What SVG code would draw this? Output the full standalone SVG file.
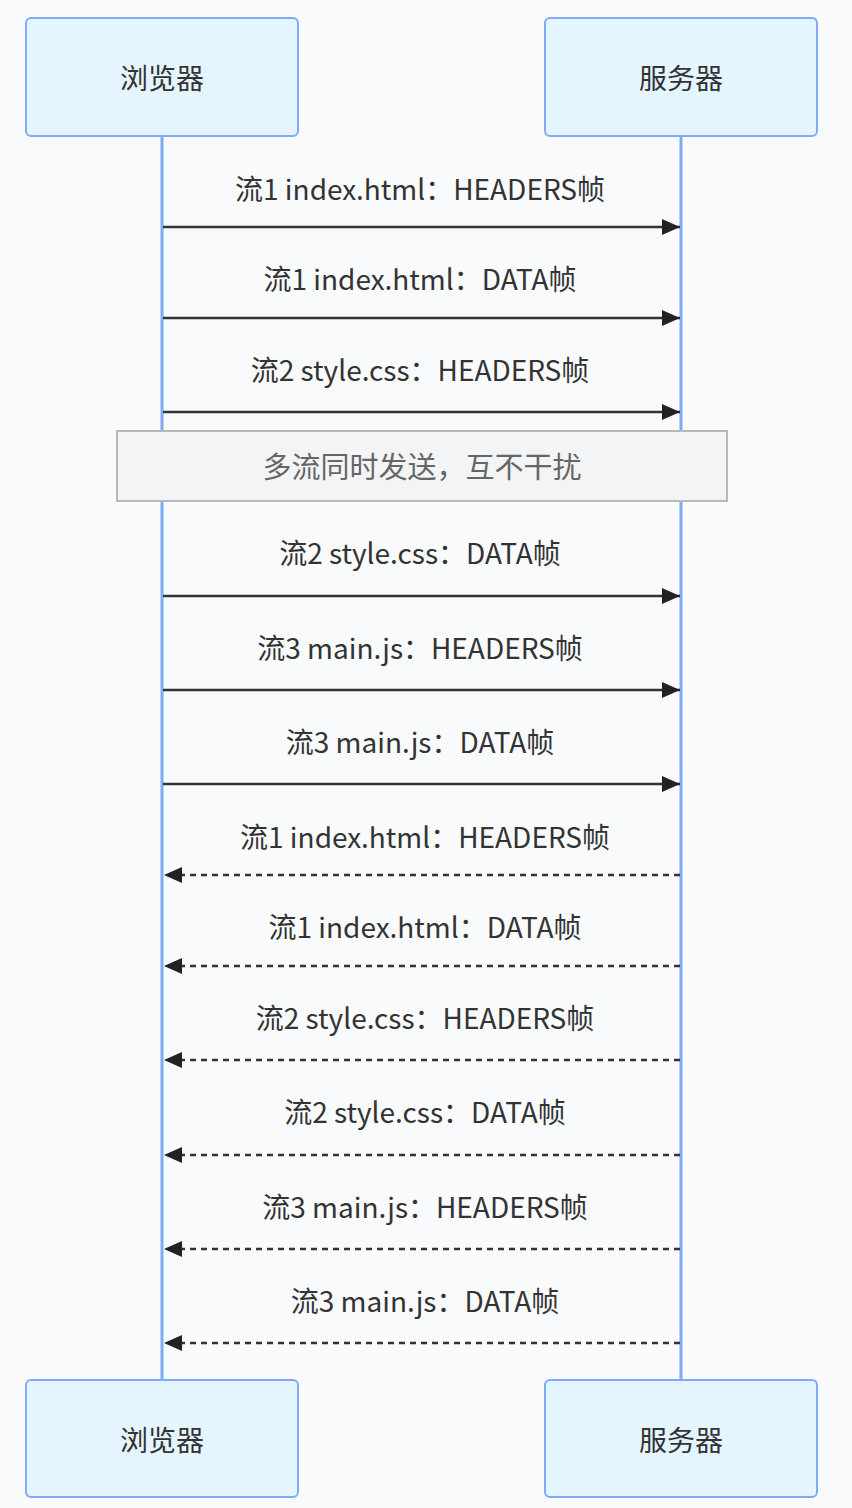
<svg xmlns="http://www.w3.org/2000/svg" width="852" height="1508" viewBox="0 0 852 1508">
<style>
.actor rect{fill:#e5f5ff;stroke:#7eaaf7;stroke-width:2}
.actor text{font-family:"Noto Sans CJK SC","Noto Sans",sans-serif;font-size:28px;fill:#333;text-anchor:middle;dominant-baseline:central}
.life{stroke:#7eaaf7;stroke-width:3}
.msg{font-family:"Noto Sans CJK SC","Noto Sans",sans-serif;font-size:28px;fill:#333;text-anchor:middle;dominant-baseline:central}
.solid{stroke:#333;stroke-width:2.5;fill:none;marker-end:url(#arr)}
.dash{stroke:#333;stroke-width:2.5;fill:none;stroke-dasharray:6 5;marker-end:url(#arr)}
.note rect{fill:#f3f4f6;stroke:#b8b8b8;stroke-width:2}
.note text{font-family:"Noto Sans CJK SC","Noto Sans",sans-serif;font-size:29px;fill:#666;text-anchor:middle;dominant-baseline:central}
</style>
<defs>
<marker id="arr" viewBox="0 0 18 16" refX="18" refY="8" markerWidth="18" markerHeight="16" markerUnits="userSpaceOnUse" orient="auto">
<path d="M0,0 L18,8 L0,16 z" fill="#222"/>
</marker>
</defs>
<rect width="852" height="1508" fill="#f8fafc"/>
<g id="lifelines">
<line class="life" x1="162" y1="136" x2="162" y2="1380"/>
<line class="life" x1="681" y1="136" x2="681" y2="1380"/>
</g>
<g id="browser-top" class="actor"><rect x="26" y="18" width="272" height="118" rx="5"/><text x="162" y="77">浏览器</text></g>
<g id="server-top" class="actor"><rect x="545" y="18" width="272" height="118" rx="5"/><text x="681" y="77">服务器</text></g>
<g id="browser-bottom" class="actor"><rect x="26" y="1380" width="272" height="117" rx="5"/><text x="162" y="1439">浏览器</text></g>
<g id="server-bottom" class="actor"><rect x="545" y="1380" width="272" height="117" rx="5"/><text x="681" y="1439">服务器</text></g>
<g id="note" class="note"><rect x="117" y="431" width="610" height="70"/><text x="422" y="465">多流同时发送，互不干扰</text></g>
<g id="connectors">
<line class="solid" x1="163" y1="227" x2="680" y2="227"/>
<line class="solid" x1="163" y1="318" x2="680" y2="318"/>
<line class="solid" x1="163" y1="412" x2="680" y2="412"/>
<line class="solid" x1="163" y1="596" x2="680" y2="596"/>
<line class="solid" x1="163" y1="690" x2="680" y2="690"/>
<line class="solid" x1="163" y1="784" x2="680" y2="784"/>
<line class="dash" x1="680" y1="875" x2="164" y2="875"/>
<line class="dash" x1="680" y1="966" x2="164" y2="966"/>
<line class="dash" x1="680" y1="1060" x2="164" y2="1060"/>
<line class="dash" x1="680" y1="1155" x2="164" y2="1155"/>
<line class="dash" x1="680" y1="1249" x2="164" y2="1249"/>
<line class="dash" x1="680" y1="1343" x2="164" y2="1343"/>
</g>
<g id="labels">
<text class="msg" x="420" y="188">流1 index.html：HEADERS帧</text>
<text class="msg" x="420" y="278">流1 index.html：DATA帧</text>
<text class="msg" x="420" y="369">流2 style.css：HEADERS帧</text>
<text class="msg" x="420" y="552">流2 style.css：DATA帧</text>
<text class="msg" x="420" y="647">流3 main.js：HEADERS帧</text>
<text class="msg" x="420" y="741">流3 main.js：DATA帧</text>
<text class="msg" x="425" y="836">流1 index.html：HEADERS帧</text>
<text class="msg" x="425" y="926">流1 index.html：DATA帧</text>
<text class="msg" x="425" y="1017">流2 style.css：HEADERS帧</text>
<text class="msg" x="425" y="1111">流2 style.css：DATA帧</text>
<text class="msg" x="425" y="1206">流3 main.js：HEADERS帧</text>
<text class="msg" x="425" y="1300">流3 main.js：DATA帧</text>
</g>
</svg>
